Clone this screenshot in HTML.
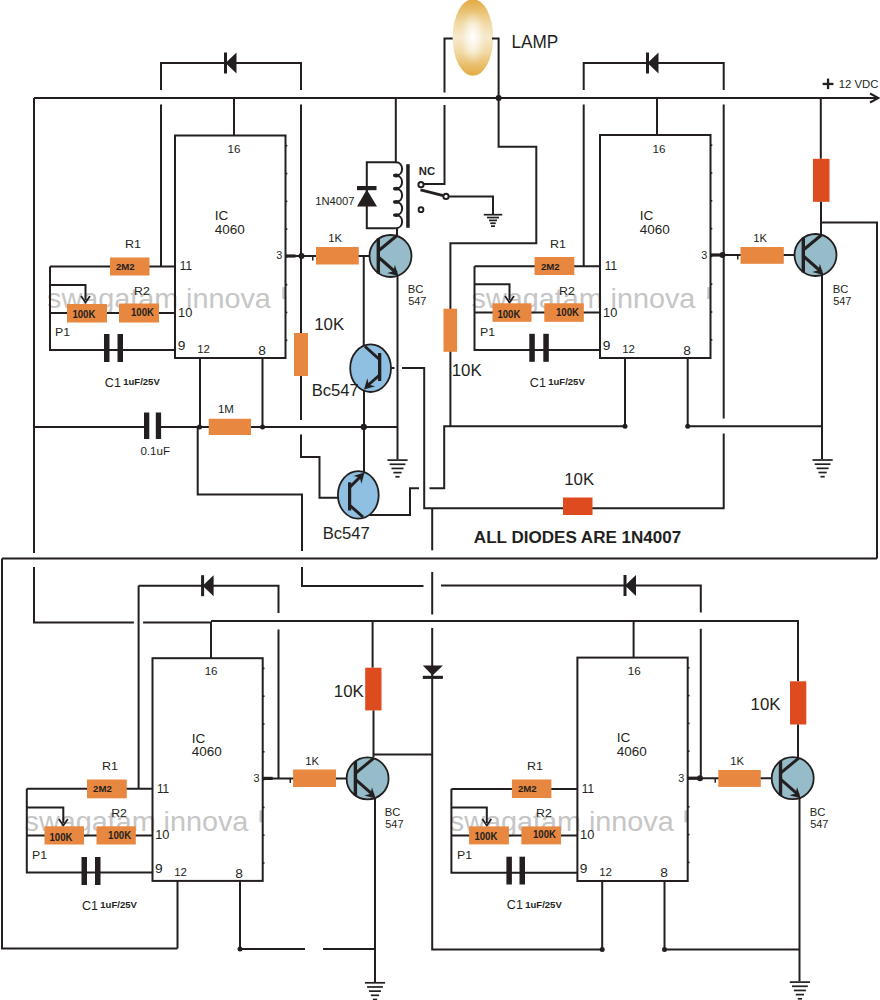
<!DOCTYPE html>
<html><head><meta charset="utf-8"><style>
html,body{margin:0;padding:0;background:#fff;}
svg{display:block;font-family:"Liberation Sans",sans-serif;}
</style></head><body>
<svg width="880" height="1000" viewBox="0 0 880 1000">
<rect width="880" height="1000" fill="#fff"/>
<text transform="translate(47,307.6) scale(1.01,1)" font-size="28.5" fill="#c6c6c6">swagatam innova</text>
<rect x="282.3" y="287.1" width="3" height="12" fill="#c6c6c6"/>
<text transform="translate(471.5,307.6) scale(1.01,1)" font-size="28.5" fill="#c6c6c6">swagatam innova</text>
<rect x="707.3" y="287.1" width="3" height="12" fill="#c6c6c6"/>
<text transform="translate(24.5,830.8) scale(1.01,1)" font-size="28.5" fill="#c6c6c6">swagatam innova</text>
<rect x="259.5" y="810.3" width="3" height="12" fill="#c6c6c6"/>
<text transform="translate(449.8,830.8) scale(1.01,1)" font-size="28.5" fill="#c6c6c6">swagatam innova</text>
<rect x="684.5" y="810.3" width="3" height="12" fill="#c6c6c6"/>
<path d="M34,98 H878" fill="none" stroke="#231f20" stroke-width="2"/>
<path d="M870,93.5 L878.5,98 L870,102.5" fill="none" stroke="#231f20" stroke-width="2"/>
<path d="M34,98 V553" fill="none" stroke="#231f20" stroke-width="2"/>
<path d="M34,567 V622.5 H133.9" fill="none" stroke="#231f20" stroke-width="2"/>
<path d="M143.1,622.5 H211 V658.2" fill="none" stroke="#231f20" stroke-width="2"/>
<path d="M211,621 H798 V681.3" fill="none" stroke="#231f20" stroke-width="2"/>
<rect x="175" y="135.5" width="110.5" height="222.5" fill="none" stroke="#231f20" stroke-width="2"/>
<path d="M161,90 V63 H301 V90" fill="none" stroke="#231f20" stroke-width="2"/>
<rect x="224.0" y="52.5" width="3" height="21" fill="#231f20"/>
<path d="M225.5,63 L236.5,52.5 L236.5,73.5 Z" fill="#231f20"/>
<path d="M161,104.5 V266.5" fill="none" stroke="#231f20" stroke-width="2"/>
<path d="M301,104.5 V420" fill="none" stroke="#231f20" stroke-width="2"/>
<path d="M301,434.5 V457 H319.5 V497.8 H338" fill="none" stroke="#231f20" stroke-width="2"/>
<path d="M234,98 V135.5" fill="none" stroke="#231f20" stroke-width="2"/>
<path d="M50,266.5 H175" fill="none" stroke="#231f20" stroke-width="2"/>
<rect x="110" y="257.5" width="39.50" height="18.00" fill="#e8873f"/>
<path d="M50,266.5 V350 H175" fill="none" stroke="#231f20" stroke-width="2"/>
<path d="M50,285 H85.5 V300" fill="none" stroke="#231f20" stroke-width="2"/>
<path d="M81,296 L85.5,302.5 L90,296" fill="none" stroke="#231f20" stroke-width="1.8"/>
<path d="M50,313 H175" fill="none" stroke="#231f20" stroke-width="2"/>
<rect x="67" y="304" width="40.00" height="18.50" fill="#e8873f"/>
<rect x="119" y="303.5" width="40.00" height="19.00" fill="#e8873f"/>
<rect x="104" y="334" width="5.50" height="28.00" fill="#231f20"/>
<rect x="117.5" y="334" width="5.50" height="28.00" fill="#231f20"/>
<path d="M200,358 V427.5" fill="none" stroke="#231f20" stroke-width="2"/>
<path d="M197.7,426 V494.5 H302 V551" fill="none" stroke="#231f20" stroke-width="2"/>
<path d="M302,567 V586 H423.5" fill="none" stroke="#231f20" stroke-width="2"/>
<path d="M441,585.5 H700.8 V612.5" fill="none" stroke="#231f20" stroke-width="2"/>
<rect x="623.5" y="575.0" width="3" height="21" fill="#231f20"/>
<path d="M625,585.5 L636,575.0 L636,596.0 Z" fill="#231f20"/>
<path d="M262.5,358 V427" fill="none" stroke="#231f20" stroke-width="2"/>
<path d="M34,427 H397.5" fill="none" stroke="#231f20" stroke-width="2"/>
<rect x="208.75" y="418.75" width="42.25" height="16.25" fill="#e8873f"/>
<rect x="143" y="412" width="30" height="28" fill="#fff"/>
<path d="M34,427 H144" fill="none" stroke="#231f20" stroke-width="2"/>
<path d="M161,427 H208" fill="none" stroke="#231f20" stroke-width="2"/>
<rect x="144" y="412.5" width="5.30" height="26.50" fill="#231f20"/>
<rect x="155.8" y="412.5" width="5.30" height="26.50" fill="#231f20"/>
<circle cx="199.5" cy="427" r="2.5" fill="#231f20"/>
<circle cx="262.5" cy="427" r="2.5" fill="#231f20"/>
<circle cx="363.75" cy="427" r="3.15" fill="#231f20"/>
<path d="M285.5,256 H370" fill="none" stroke="#231f20" stroke-width="2"/>
<rect x="316" y="247" width="42.75" height="17.50" fill="#e8873f"/>
<circle cx="301.5" cy="256" r="3" fill="#231f20"/>
<rect x="294" y="333" width="14.00" height="43.00" fill="#e8873f"/>
<path d="M397,228 V240" fill="none" stroke="#231f20" stroke-width="2"/>
<path d="M397.5,270 V459.5" fill="none" stroke="#231f20" stroke-width="2"/>
<rect x="387.40" y="459.25" width="20.2" height="1.7" fill="#231f20"/>
<rect x="389.60" y="463.42" width="15.8" height="1.7" fill="#231f20"/>
<rect x="391.50" y="467.59" width="12" height="1.7" fill="#231f20"/>
<rect x="393.40" y="471.76" width="8.2" height="1.7" fill="#231f20"/>
<rect x="395.40" y="475.93" width="4.2" height="1.7" fill="#231f20"/>
<path d="M363.75,256 V347" fill="none" stroke="#231f20" stroke-width="2"/>
<path d="M364,389 V473" fill="none" stroke="#231f20" stroke-width="2"/>
<circle cx="390.5" cy="256" r="21" fill="#95bcc8" stroke="#231f20" stroke-width="1.8"/>
<rect x="376.6" y="238.5" width="3.4" height="35" fill="#231f20"/>
<path d="M378.3,251 L397.0,235.5" fill="none" stroke="#231f20" stroke-width="3"/>
<path d="M378.3,257 L396.5,273" fill="none" stroke="#231f20" stroke-width="3"/>
<path d="M398.50,276.00 L394.83,264.86 L393.55,271.34 L387.16,273.02 Z" fill="#231f20"/>
<ellipse cx="370.6" cy="368.2" rx="20.4" ry="23.8" fill="#8fc0e2" stroke="#231f20" stroke-width="1.8"/>
<rect x="378" y="353" width="3.3" height="28" fill="#231f20"/>
<path d="M379,359 L365,346.5" fill="none" stroke="#231f20" stroke-width="3"/>
<path d="M379,375.5 L366,387" fill="none" stroke="#231f20" stroke-width="3"/>
<path d="M364.00,389.50 L375.25,386.22 L368.83,384.71 L367.36,378.27 Z" fill="#231f20"/>
<path d="M391,368 H394.5" fill="none" stroke="#231f20" stroke-width="2"/>
<path d="M402,368 H424.2 V508.3 H723.7 V433.6" fill="none" stroke="#231f20" stroke-width="2"/>
<path d="M723.7,418.6 V104.5" fill="none" stroke="#231f20" stroke-width="2"/>
<path d="M723.7,90 V63 H583.7 V90" fill="none" stroke="#231f20" stroke-width="2"/>
<rect x="646.0" y="52.5" width="3" height="21" fill="#231f20"/>
<path d="M647.5,63 L658.5,52.5 L658.5,73.5 Z" fill="#231f20"/>
<rect x="563" y="497.5" width="29.50" height="17.50" fill="#dd4b1e"/>
<ellipse cx="358.3" cy="494.9" rx="20.4" ry="23.8" fill="#8fc0e2" stroke="#231f20" stroke-width="1.8"/>
<rect x="348" y="482.3" width="3.2" height="28.2" fill="#231f20"/>
<path d="M350,487 L362,475" fill="none" stroke="#231f20" stroke-width="3"/>
<path d="M364.50,472.50 L353.34,476.11 L359.81,477.43 L361.46,483.82 Z" fill="#231f20"/>
<path d="M350,505.5 L363,517" fill="none" stroke="#231f20" stroke-width="3"/>
<path d="M369.5,515 H410 V488.3 H419" fill="none" stroke="#231f20" stroke-width="2"/>
<path d="M429.5,488.3 H444.2 V426.3 H625" fill="none" stroke="#231f20" stroke-width="2"/>
<path d="M432.2,508.3 V550.3" fill="none" stroke="#231f20" stroke-width="2"/>
<path d="M432.2,572 V614.5" fill="none" stroke="#231f20" stroke-width="2"/>
<path d="M432.2,628 V949.4 H602.2" fill="none" stroke="#231f20" stroke-width="2"/>
<path d="M395.8,98 V162.3 H366.8 V228.2 H395.8" fill="none" stroke="#231f20" stroke-width="2"/>
<path d="M395.8,162.3 C404.2,162.3 404.2,175.5 395.8,175.5 C404.2,175.5 404.2,188.7 395.8,188.7 C404.2,188.7 404.2,201.9 395.8,201.9 C404.2,201.9 404.2,215.1 395.8,215.1 C404.2,215.1 404.2,228.2 395.8,228.2 " fill="none" stroke="#231f20" stroke-width="2"/>
<ellipse cx="396.2" cy="175.5" rx="3.2" ry="1.9" fill="#231f20"/>
<ellipse cx="396.2" cy="188.7" rx="3.2" ry="1.9" fill="#231f20"/>
<ellipse cx="396.2" cy="201.9" rx="3.2" ry="1.9" fill="#231f20"/>
<ellipse cx="396.2" cy="215.1" rx="3.2" ry="1.9" fill="#231f20"/>
<rect x="406.2" y="164.2" width="3.50" height="63.60" fill="#231f20"/>
<rect x="357" y="186" width="19.50" height="4.20" fill="#231f20"/>
<path d="M366.8,189.5 L357,206.5 L377,206.5 Z" fill="#231f20"/>
<path d="M420.5,189.8 L443.3,195.6" fill="none" stroke="#231f20" stroke-width="2.8"/>
<circle cx="421" cy="184.7" r="2.6" fill="#fff" stroke="#231f20" stroke-width="2"/>
<circle cx="446" cy="196.4" r="2.6" fill="#fff" stroke="#231f20" stroke-width="2"/>
<circle cx="421" cy="209.7" r="2.4" fill="#fff" stroke="#231f20" stroke-width="1.9"/>
<path d="M424,184 H444.5 V105" fill="none" stroke="#231f20" stroke-width="2"/>
<path d="M444.5,92.5 V38.5 H454" fill="none" stroke="#231f20" stroke-width="2"/>
<path d="M449,196.6 H493 V214.5" fill="none" stroke="#231f20" stroke-width="2"/>
<rect x="483.75" y="213.85" width="18.5" height="1.7" fill="#231f20"/>
<rect x="487.00" y="216.70" width="12" height="1.7" fill="#231f20"/>
<rect x="489.00" y="219.55" width="8" height="1.7" fill="#231f20"/>
<rect x="490.25" y="222.40" width="5.5" height="1.7" fill="#231f20"/>
<rect x="491.00" y="225.25" width="4" height="1.7" fill="#231f20"/>
<defs><linearGradient id="lv" x1="0" y1="0" x2="0" y2="1"><stop offset="0" stop-color="#e3aa40"/><stop offset="0.15" stop-color="#e9c070"/><stop offset="0.3" stop-color="#f0d8a0"/><stop offset="0.5" stop-color="#f6ead0"/><stop offset="0.7" stop-color="#f0d8a0"/><stop offset="0.85" stop-color="#e9c070"/><stop offset="1" stop-color="#e3aa40"/></linearGradient><radialGradient id="lr" cx="0.5" cy="0.5" r="0.5"><stop offset="0" stop-color="#ffffff" stop-opacity="1"/><stop offset="0.35" stop-color="#fbf4e4" stop-opacity="0.8"/><stop offset="0.7" stop-color="#f4e4c0" stop-opacity="0"/></radialGradient></defs>
<ellipse cx="472.9" cy="37.5" rx="20.3" ry="38.3" fill="url(#lv)"/>
<ellipse cx="472.9" cy="37.5" rx="20.3" ry="38.3" fill="url(#lr)"/>
<path d="M492,38.5 H498.6 V146.8 H536.3 V243.3 H450.4 V426.3" fill="none" stroke="#231f20" stroke-width="2"/>
<rect x="443.5" y="308.7" width="13.60" height="43.10" fill="#e8873f"/>
<circle cx="498.6" cy="98" r="3" fill="#231f20"/>
<rect x="600" y="135" width="110.5" height="223" fill="none" stroke="#231f20" stroke-width="2"/>
<path d="M583.7,104.5 V266.3" fill="none" stroke="#231f20" stroke-width="2"/>
<path d="M657,98 V135" fill="none" stroke="#231f20" stroke-width="2"/>
<path d="M474.5,266.3 H600" fill="none" stroke="#231f20" stroke-width="2"/>
<rect x="534.5" y="257" width="39.80" height="18.00" fill="#e8873f"/>
<path d="M474.5,266.3 V350 H600" fill="none" stroke="#231f20" stroke-width="2"/>
<path d="M474.5,284.3 H509.5 V300" fill="none" stroke="#231f20" stroke-width="2"/>
<path d="M505,296 L509.5,302.5 L514,296" fill="none" stroke="#231f20" stroke-width="1.8"/>
<path d="M474.5,312.5 H600" fill="none" stroke="#231f20" stroke-width="2"/>
<rect x="492.5" y="303.3" width="39.00" height="18.50" fill="#e8873f"/>
<rect x="544.3" y="303.3" width="39.50" height="18.50" fill="#e8873f"/>
<rect x="529.3" y="333.8" width="5.50" height="28.00" fill="#231f20"/>
<rect x="543.3" y="333.8" width="5.50" height="28.00" fill="#231f20"/>
<path d="M625,358 V426.3" fill="none" stroke="#231f20" stroke-width="2"/>
<circle cx="625" cy="426.3" r="2.5" fill="#231f20"/>
<path d="M687.7,358 V426.3 H822" fill="none" stroke="#231f20" stroke-width="2"/>
<circle cx="687.7" cy="426.3" r="2.5" fill="#231f20"/>
<path d="M710.5,255 H794" fill="none" stroke="#231f20" stroke-width="2"/>
<rect x="740.5" y="247" width="43.30" height="16.80" fill="#e8873f"/>
<circle cx="722.5" cy="255" r="3" fill="#231f20"/>
<path d="M820.8,98 V158.8" fill="none" stroke="#231f20" stroke-width="2"/>
<rect x="813" y="158.8" width="16.50" height="43.00" fill="#dd4b1e"/>
<path d="M821,201.8 V236" fill="none" stroke="#231f20" stroke-width="2"/>
<path d="M822,222.5 H877 V558.5" fill="none" stroke="#231f20" stroke-width="2"/>
<path d="M822,270 V459" fill="none" stroke="#231f20" stroke-width="2"/>
<rect x="812.50" y="459.15" width="20.2" height="1.7" fill="#231f20"/>
<rect x="814.70" y="463.32" width="15.8" height="1.7" fill="#231f20"/>
<rect x="816.60" y="467.49" width="12" height="1.7" fill="#231f20"/>
<rect x="818.50" y="471.66" width="8.2" height="1.7" fill="#231f20"/>
<rect x="820.50" y="475.83" width="4.2" height="1.7" fill="#231f20"/>
<circle cx="815.5" cy="255" r="21" fill="#95bcc8" stroke="#231f20" stroke-width="1.8"/>
<rect x="801.5999999999999" y="237.5" width="3.4" height="35" fill="#231f20"/>
<path d="M803.3,250 L822.0,234.5" fill="none" stroke="#231f20" stroke-width="3"/>
<path d="M803.3,256 L821.5,272" fill="none" stroke="#231f20" stroke-width="3"/>
<path d="M823.50,275.00 L819.83,263.86 L818.55,270.34 L812.16,272.02 Z" fill="#231f20"/>
<rect x="285.5" y="144.90" width="1.8" height="1.6" fill="#231f20"/>
<rect x="285.5" y="172.70" width="1.8" height="1.6" fill="#231f20"/>
<rect x="285.5" y="200.50" width="1.8" height="1.6" fill="#231f20"/>
<rect x="285.5" y="228.30" width="1.8" height="1.6" fill="#231f20"/>
<rect x="285.5" y="256.10" width="1.8" height="1.6" fill="#231f20"/>
<rect x="285.5" y="283.90" width="1.8" height="1.6" fill="#231f20"/>
<rect x="285.5" y="311.70" width="1.8" height="1.6" fill="#231f20"/>
<rect x="285.5" y="339.50" width="1.8" height="1.6" fill="#231f20"/>
<rect x="710.5" y="144.40" width="1.8" height="1.6" fill="#231f20"/>
<rect x="710.5" y="172.20" width="1.8" height="1.6" fill="#231f20"/>
<rect x="710.5" y="200.00" width="1.8" height="1.6" fill="#231f20"/>
<rect x="710.5" y="227.80" width="1.8" height="1.6" fill="#231f20"/>
<rect x="710.5" y="255.60" width="1.8" height="1.6" fill="#231f20"/>
<rect x="710.5" y="283.40" width="1.8" height="1.6" fill="#231f20"/>
<rect x="710.5" y="311.20" width="1.8" height="1.6" fill="#231f20"/>
<rect x="710.5" y="339.00" width="1.8" height="1.6" fill="#231f20"/>
<rect x="262.7" y="667.60" width="1.8" height="1.6" fill="#231f20"/>
<rect x="262.7" y="695.40" width="1.8" height="1.6" fill="#231f20"/>
<rect x="262.7" y="723.20" width="1.8" height="1.6" fill="#231f20"/>
<rect x="262.7" y="751.00" width="1.8" height="1.6" fill="#231f20"/>
<rect x="262.7" y="778.80" width="1.8" height="1.6" fill="#231f20"/>
<rect x="262.7" y="806.60" width="1.8" height="1.6" fill="#231f20"/>
<rect x="262.7" y="834.40" width="1.8" height="1.6" fill="#231f20"/>
<rect x="262.7" y="862.20" width="1.8" height="1.6" fill="#231f20"/>
<rect x="687.7" y="667.00" width="1.8" height="1.6" fill="#231f20"/>
<rect x="687.7" y="694.80" width="1.8" height="1.6" fill="#231f20"/>
<rect x="687.7" y="722.60" width="1.8" height="1.6" fill="#231f20"/>
<rect x="687.7" y="750.40" width="1.8" height="1.6" fill="#231f20"/>
<rect x="687.7" y="778.20" width="1.8" height="1.6" fill="#231f20"/>
<rect x="687.7" y="806.00" width="1.8" height="1.6" fill="#231f20"/>
<rect x="687.7" y="833.80" width="1.8" height="1.6" fill="#231f20"/>
<rect x="687.7" y="861.60" width="1.8" height="1.6" fill="#231f20"/>
<rect x="285.5" y="254.4" width="10" height="3.2" fill="#231f20"/>
<rect x="312" y="256" width="1.5" height="4.5" fill="#231f20"/>
<rect x="710.5" y="253.4" width="10" height="3.2" fill="#231f20"/>
<rect x="737" y="255" width="1.5" height="4.5" fill="#231f20"/>
<rect x="262.7" y="776.8" width="10" height="3.2" fill="#231f20"/>
<rect x="289.5" y="778.4" width="1.5" height="4.5" fill="#231f20"/>
<rect x="687.7" y="776.6" width="10" height="3.2" fill="#231f20"/>
<rect x="714.5" y="778.2" width="1.5" height="4.5" fill="#231f20"/>
<path d="M2,558.5 H877" fill="none" stroke="#231f20" stroke-width="2"/>
<path d="M2,558.5 V948.5 H177.5" fill="none" stroke="#231f20" stroke-width="2"/>
<rect x="152.5" y="658.2" width="110.2" height="222.7" fill="none" stroke="#231f20" stroke-width="2"/>
<path d="M138.6,585.7 V788.8" fill="none" stroke="#231f20" stroke-width="2"/>
<path d="M138.6,585.7 H278.5 V613" fill="none" stroke="#231f20" stroke-width="2"/>
<rect x="201.1" y="575.2" width="3" height="21" fill="#231f20"/>
<path d="M202.6,585.7 L213.6,575.2 L213.6,596.2 Z" fill="#231f20"/>
<path d="M278.5,629.5 V778.4" fill="none" stroke="#231f20" stroke-width="2"/>
<path d="M26.8,788.8 H152.5" fill="none" stroke="#231f20" stroke-width="2"/>
<rect x="87" y="779.5" width="39.80" height="18.80" fill="#e8873f"/>
<path d="M26.8,788.8 V872.5 H152.5" fill="none" stroke="#231f20" stroke-width="2"/>
<path d="M26.8,807.5 H63.3 V823" fill="none" stroke="#231f20" stroke-width="2"/>
<path d="M58.8,819 L63.3,825.5 L67.8,819" fill="none" stroke="#231f20" stroke-width="1.8"/>
<path d="M26.8,835.5 H152.5" fill="none" stroke="#231f20" stroke-width="2"/>
<rect x="44.5" y="826.3" width="39.50" height="18.20" fill="#e8873f"/>
<rect x="96.5" y="826.3" width="39.30" height="18.20" fill="#e8873f"/>
<rect x="81.5" y="857" width="5.50" height="28.00" fill="#231f20"/>
<rect x="95.0" y="857" width="5.50" height="28.00" fill="#231f20"/>
<path d="M177.5,880.9 V948.5" fill="none" stroke="#231f20" stroke-width="2"/>
<path d="M240,880.9 V949 H305" fill="none" stroke="#231f20" stroke-width="2"/>
<path d="M323,949 H374.8" fill="none" stroke="#231f20" stroke-width="2"/>
<circle cx="240" cy="949" r="2.5" fill="#231f20"/>
<path d="M262.7,778.4 H346" fill="none" stroke="#231f20" stroke-width="2"/>
<rect x="293.1" y="769.5" width="42.90" height="17.50" fill="#e8873f"/>
<path d="M372.6,621 V667.7" fill="none" stroke="#231f20" stroke-width="2"/>
<rect x="365.2" y="667.7" width="16.30" height="42.70" fill="#dd4b1e"/>
<path d="M373.5,710.4 V757" fill="none" stroke="#231f20" stroke-width="2"/>
<path d="M373.5,754.6 H432.5" fill="none" stroke="#231f20" stroke-width="2"/>
<path d="M375,795 V982" fill="none" stroke="#231f20" stroke-width="2"/>
<rect x="364.90" y="981.95" width="20.2" height="1.7" fill="#231f20"/>
<rect x="367.10" y="986.12" width="15.8" height="1.7" fill="#231f20"/>
<rect x="369.00" y="990.29" width="12" height="1.7" fill="#231f20"/>
<rect x="370.90" y="994.46" width="8.2" height="1.7" fill="#231f20"/>
<rect x="372.90" y="998.63" width="4.2" height="1.7" fill="#231f20"/>
<circle cx="367.6" cy="778.4" r="21" fill="#95bcc8" stroke="#231f20" stroke-width="1.8"/>
<rect x="353.70000000000005" y="760.9" width="3.4" height="35" fill="#231f20"/>
<path d="M355.40000000000003,773.4 L374.1,757.9" fill="none" stroke="#231f20" stroke-width="3"/>
<path d="M355.40000000000003,779.4 L373.6,795.4" fill="none" stroke="#231f20" stroke-width="3"/>
<path d="M375.60,798.40 L371.93,787.26 L370.65,793.74 L364.26,795.42 Z" fill="#231f20"/>
<path d="M422.8,665.4 L442.9,665.4 L432.5,675.5 Z" fill="#231f20"/>
<rect x="422.8" y="675.8" width="20.10" height="3.10" fill="#231f20"/>
<rect x="577.4" y="657.6" width="110.3" height="223.4" fill="none" stroke="#231f20" stroke-width="2"/>
<path d="M633.6,621 V657.6" fill="none" stroke="#231f20" stroke-width="2"/>
<path d="M700.8,628.8 V778.2" fill="none" stroke="#231f20" stroke-width="2"/>
<path d="M451.4,789 H577.4" fill="none" stroke="#231f20" stroke-width="2"/>
<rect x="511.9" y="779.5" width="39.50" height="18.50" fill="#e8873f"/>
<path d="M451.4,789 V872.8 H577.4" fill="none" stroke="#231f20" stroke-width="2"/>
<path d="M451.4,807.4 H486.8 V823" fill="none" stroke="#231f20" stroke-width="2"/>
<path d="M482.3,819 L486.8,825.5 L491.3,819" fill="none" stroke="#231f20" stroke-width="1.8"/>
<path d="M451.4,835.4 H577.4" fill="none" stroke="#231f20" stroke-width="2"/>
<rect x="469.1" y="826.4" width="39.80" height="18.00" fill="#e8873f"/>
<rect x="521.4" y="826.4" width="39.60" height="18.00" fill="#e8873f"/>
<rect x="506.4" y="856.7" width="5.50" height="27.80" fill="#231f20"/>
<rect x="519.5" y="856.7" width="5.50" height="27.80" fill="#231f20"/>
<path d="M602.2,881 V949.4" fill="none" stroke="#231f20" stroke-width="2"/>
<circle cx="602.2" cy="949.4" r="2.5" fill="#231f20"/>
<path d="M664.5,881 V949.4 H799.5" fill="none" stroke="#231f20" stroke-width="2"/>
<circle cx="664.5" cy="949.4" r="2.5" fill="#231f20"/>
<path d="M687.7,778.2 H771" fill="none" stroke="#231f20" stroke-width="2"/>
<rect x="718.3" y="770" width="42.50" height="16.90" fill="#e8873f"/>
<circle cx="700" cy="778.2" r="3" fill="#231f20"/>
<rect x="790" y="681.3" width="16.30" height="43.20" fill="#dd4b1e"/>
<path d="M798,724.5 V757" fill="none" stroke="#231f20" stroke-width="2"/>
<path d="M799.5,795 V981.3" fill="none" stroke="#231f20" stroke-width="2"/>
<rect x="789.80" y="981.25" width="20.2" height="1.7" fill="#231f20"/>
<rect x="792.00" y="985.42" width="15.8" height="1.7" fill="#231f20"/>
<rect x="793.90" y="989.59" width="12" height="1.7" fill="#231f20"/>
<rect x="795.80" y="993.76" width="8.2" height="1.7" fill="#231f20"/>
<rect x="797.80" y="997.93" width="4.2" height="1.7" fill="#231f20"/>
<circle cx="792.7" cy="778.2" r="21" fill="#95bcc8" stroke="#231f20" stroke-width="1.8"/>
<rect x="778.8" y="760.7" width="3.4" height="35" fill="#231f20"/>
<path d="M780.5,773.2 L799.2,757.7" fill="none" stroke="#231f20" stroke-width="3"/>
<path d="M780.5,779.2 L798.7,795.2" fill="none" stroke="#231f20" stroke-width="3"/>
<path d="M800.70,798.20 L797.03,787.06 L795.75,793.54 L789.36,795.22 Z" fill="#231f20"/>
<text transform="translate(227.53,152.50) scale(1.046,1)" font-size="11.14" font-weight="normal" fill="#231f20">16</text>
<text transform="translate(214.68,219.80) scale(1.067,1)" font-size="12.71" font-weight="normal" fill="#231f20">IC</text>
<text transform="translate(214.66,233.60) scale(1.014,1)" font-size="13.29" font-weight="normal" fill="#231f20">4060</text>
<text transform="translate(124.90,247.50) scale(1.08,1)" font-size="11.59" font-weight="normal" fill="#231f20">R1</text>
<text transform="translate(115.96,269.70) scale(0.977,1)" font-size="9.86" font-weight="bold" fill="#231f20">2M2</text>
<text transform="translate(179.81,270.20) scale(0.993,1)" font-size="11.88" font-weight="normal" fill="#231f20">11</text>
<text transform="translate(134.07,294.50) scale(1.12,1)" font-size="11.0" font-weight="normal" fill="#231f20">R2</text>
<text transform="translate(178.04,316.60) scale(1.018,1)" font-size="12.57" font-weight="normal" fill="#231f20">10</text>
<text transform="translate(55.01,336.20) scale(1.12,1)" font-size="11.01" font-weight="normal" fill="#231f20">P1</text>
<text transform="translate(177.84,350.40) scale(1.12,1)" font-size="12.29" font-weight="normal" fill="#231f20">9</text>
<text transform="translate(197.14,353.00) scale(1.004,1)" font-size="11.43" font-weight="normal" fill="#231f20">12</text>
<text transform="translate(258.23,354.80) scale(1.12,1)" font-size="12.29" font-weight="normal" fill="#231f20">8</text>
<text transform="translate(276.37,259.30) scale(0.961,1)" font-size="11.29" font-weight="normal" fill="#231f20">3</text>
<text transform="translate(328.25,242.00) scale(1.066,1)" font-size="10.58" font-weight="normal" fill="#231f20">1K</text>
<text transform="translate(104.87,386.80) scale(1.033,1)" font-size="12.14" font-weight="normal" fill="#231f20">C1</text>
<text transform="translate(123.18,385.30) scale(0.989,1)" font-size="9.66" font-weight="bold" fill="#231f20">1uF/25V</text>
<text transform="translate(407.70,293.00) scale(1.065,1)" font-size="10.57" font-weight="normal" fill="#231f20">BC</text>
<text transform="translate(408.16,305.40) scale(1.021,1)" font-size="10.72" font-weight="normal" fill="#231f20">547</text>
<text transform="translate(72.38,317.80) scale(0.95,1)" font-size="10.14" font-weight="bold" fill="#231f20">100K</text>
<text transform="translate(131.00,315.80) scale(0.95,1)" font-size="10.14" font-weight="bold" fill="#231f20">100K</text>
<text transform="translate(652.53,152.50) scale(1.046,1)" font-size="11.14" font-weight="normal" fill="#231f20">16</text>
<text transform="translate(639.68,219.80) scale(1.067,1)" font-size="12.71" font-weight="normal" fill="#231f20">IC</text>
<text transform="translate(639.66,233.60) scale(1.014,1)" font-size="13.29" font-weight="normal" fill="#231f20">4060</text>
<text transform="translate(549.90,247.50) scale(1.08,1)" font-size="11.59" font-weight="normal" fill="#231f20">R1</text>
<text transform="translate(540.96,269.70) scale(0.977,1)" font-size="9.86" font-weight="bold" fill="#231f20">2M2</text>
<text transform="translate(604.81,270.20) scale(0.993,1)" font-size="11.88" font-weight="normal" fill="#231f20">11</text>
<text transform="translate(559.07,294.50) scale(1.12,1)" font-size="11.0" font-weight="normal" fill="#231f20">R2</text>
<text transform="translate(603.04,316.60) scale(1.018,1)" font-size="12.57" font-weight="normal" fill="#231f20">10</text>
<text transform="translate(480.01,336.20) scale(1.12,1)" font-size="11.01" font-weight="normal" fill="#231f20">P1</text>
<text transform="translate(602.84,350.40) scale(1.12,1)" font-size="12.29" font-weight="normal" fill="#231f20">9</text>
<text transform="translate(622.14,353.00) scale(1.004,1)" font-size="11.43" font-weight="normal" fill="#231f20">12</text>
<text transform="translate(683.23,354.80) scale(1.12,1)" font-size="12.29" font-weight="normal" fill="#231f20">8</text>
<text transform="translate(701.37,259.30) scale(0.961,1)" font-size="11.29" font-weight="normal" fill="#231f20">3</text>
<text transform="translate(753.25,242.00) scale(1.066,1)" font-size="10.58" font-weight="normal" fill="#231f20">1K</text>
<text transform="translate(529.87,386.80) scale(1.033,1)" font-size="12.14" font-weight="normal" fill="#231f20">C1</text>
<text transform="translate(548.18,385.30) scale(0.989,1)" font-size="9.66" font-weight="bold" fill="#231f20">1uF/25V</text>
<text transform="translate(832.70,293.00) scale(1.065,1)" font-size="10.57" font-weight="normal" fill="#231f20">BC</text>
<text transform="translate(833.16,305.40) scale(1.021,1)" font-size="10.72" font-weight="normal" fill="#231f20">547</text>
<text transform="translate(497.38,317.80) scale(0.95,1)" font-size="10.14" font-weight="bold" fill="#231f20">100K</text>
<text transform="translate(556.00,315.80) scale(0.95,1)" font-size="10.14" font-weight="bold" fill="#231f20">100K</text>
<text transform="translate(204.63,675.20) scale(1.046,1)" font-size="11.14" font-weight="normal" fill="#231f20">16</text>
<text transform="translate(191.78,742.50) scale(1.067,1)" font-size="12.71" font-weight="normal" fill="#231f20">IC</text>
<text transform="translate(191.76,756.30) scale(1.014,1)" font-size="13.29" font-weight="normal" fill="#231f20">4060</text>
<text transform="translate(102.00,770.20) scale(1.08,1)" font-size="11.59" font-weight="normal" fill="#231f20">R1</text>
<text transform="translate(93.06,792.40) scale(0.977,1)" font-size="9.86" font-weight="bold" fill="#231f20">2M2</text>
<text transform="translate(156.91,792.90) scale(0.993,1)" font-size="11.88" font-weight="normal" fill="#231f20">11</text>
<text transform="translate(111.17,817.20) scale(1.12,1)" font-size="11.0" font-weight="normal" fill="#231f20">R2</text>
<text transform="translate(155.14,839.30) scale(1.018,1)" font-size="12.57" font-weight="normal" fill="#231f20">10</text>
<text transform="translate(32.11,858.90) scale(1.12,1)" font-size="11.01" font-weight="normal" fill="#231f20">P1</text>
<text transform="translate(154.94,873.10) scale(1.12,1)" font-size="12.29" font-weight="normal" fill="#231f20">9</text>
<text transform="translate(174.24,875.70) scale(1.004,1)" font-size="11.43" font-weight="normal" fill="#231f20">12</text>
<text transform="translate(235.33,877.50) scale(1.12,1)" font-size="12.29" font-weight="normal" fill="#231f20">8</text>
<text transform="translate(253.47,782.00) scale(0.961,1)" font-size="11.29" font-weight="normal" fill="#231f20">3</text>
<text transform="translate(305.35,764.70) scale(1.066,1)" font-size="10.58" font-weight="normal" fill="#231f20">1K</text>
<text transform="translate(81.97,909.50) scale(1.033,1)" font-size="12.14" font-weight="normal" fill="#231f20">C1</text>
<text transform="translate(100.28,908.00) scale(0.989,1)" font-size="9.66" font-weight="bold" fill="#231f20">1uF/25V</text>
<text transform="translate(384.80,815.70) scale(1.065,1)" font-size="10.57" font-weight="normal" fill="#231f20">BC</text>
<text transform="translate(385.26,828.10) scale(1.021,1)" font-size="10.72" font-weight="normal" fill="#231f20">547</text>
<text transform="translate(49.48,840.50) scale(0.95,1)" font-size="10.14" font-weight="bold" fill="#231f20">100K</text>
<text transform="translate(108.10,838.50) scale(0.95,1)" font-size="10.14" font-weight="bold" fill="#231f20">100K</text>
<text transform="translate(627.83,675.00) scale(1.046,1)" font-size="11.14" font-weight="normal" fill="#231f20">16</text>
<text transform="translate(616.68,742.30) scale(1.067,1)" font-size="12.71" font-weight="normal" fill="#231f20">IC</text>
<text transform="translate(616.66,756.10) scale(1.014,1)" font-size="13.29" font-weight="normal" fill="#231f20">4060</text>
<text transform="translate(526.90,770.00) scale(1.08,1)" font-size="11.59" font-weight="normal" fill="#231f20">R1</text>
<text transform="translate(517.96,792.20) scale(0.977,1)" font-size="9.86" font-weight="bold" fill="#231f20">2M2</text>
<text transform="translate(581.81,792.70) scale(0.993,1)" font-size="11.88" font-weight="normal" fill="#231f20">11</text>
<text transform="translate(536.07,817.00) scale(1.12,1)" font-size="11.0" font-weight="normal" fill="#231f20">R2</text>
<text transform="translate(580.04,839.10) scale(1.018,1)" font-size="12.57" font-weight="normal" fill="#231f20">10</text>
<text transform="translate(457.01,858.70) scale(1.12,1)" font-size="11.01" font-weight="normal" fill="#231f20">P1</text>
<text transform="translate(579.84,872.90) scale(1.12,1)" font-size="12.29" font-weight="normal" fill="#231f20">9</text>
<text transform="translate(599.14,875.50) scale(1.004,1)" font-size="11.43" font-weight="normal" fill="#231f20">12</text>
<text transform="translate(660.23,877.30) scale(1.12,1)" font-size="12.29" font-weight="normal" fill="#231f20">8</text>
<text transform="translate(678.37,781.80) scale(0.961,1)" font-size="11.29" font-weight="normal" fill="#231f20">3</text>
<text transform="translate(730.25,764.50) scale(1.066,1)" font-size="10.58" font-weight="normal" fill="#231f20">1K</text>
<text transform="translate(506.87,909.30) scale(1.033,1)" font-size="12.14" font-weight="normal" fill="#231f20">C1</text>
<text transform="translate(525.18,907.80) scale(0.989,1)" font-size="9.66" font-weight="bold" fill="#231f20">1uF/25V</text>
<text transform="translate(809.70,815.50) scale(1.065,1)" font-size="10.57" font-weight="normal" fill="#231f20">BC</text>
<text transform="translate(810.16,827.90) scale(1.021,1)" font-size="10.72" font-weight="normal" fill="#231f20">547</text>
<text transform="translate(474.38,840.30) scale(0.95,1)" font-size="10.14" font-weight="bold" fill="#231f20">100K</text>
<text transform="translate(533.00,838.30) scale(0.95,1)" font-size="10.14" font-weight="bold" fill="#231f20">100K</text>
<text transform="translate(140.44,454.70) scale(1.011,1)" font-size="11.43" font-weight="normal" fill="#231f20">0.1uF</text>
<text transform="translate(217.93,412.60) scale(1.035,1)" font-size="11.16" font-weight="normal" fill="#231f20">1M</text>
<text transform="translate(314.24,329.80) scale(1.009,1)" font-size="16.71" font-weight="normal" fill="#231f20">10K</text>
<text transform="translate(311.67,396.00) scale(1.063,1)" font-size="15.65" font-weight="normal" fill="#231f20">Bc547</text>
<text transform="translate(315.16,204.80) scale(0.998,1)" font-size="11.29" font-weight="normal" fill="#231f20">1N4007</text>
<text transform="translate(418.77,174.90) scale(0.998,1)" font-size="11.29" font-weight="bold" fill="#231f20">NC</text>
<text transform="translate(511.53,47.90) scale(0.972,1)" font-size="17.68" font-weight="normal" fill="#231f20">LAMP</text>
<text transform="translate(838.75,87.90) scale(0.993,1)" font-size="11.43" font-weight="normal" fill="#231f20">12 VDC</text>
<text transform="translate(473.87,542.50) scale(1.003,1)" font-size="17.0" font-weight="bold" fill="#231f20">ALL DIODES ARE 1N4007</text>
<text transform="translate(322.67,538.70) scale(1.063,1)" font-size="15.65" font-weight="normal" fill="#231f20">Bc547</text>
<text transform="translate(451.74,376.00) scale(1.009,1)" font-size="16.71" font-weight="normal" fill="#231f20">10K</text>
<text transform="translate(564.24,485.00) scale(1.009,1)" font-size="16.71" font-weight="normal" fill="#231f20">10K</text>
<text transform="translate(333.84,696.80) scale(1.009,1)" font-size="16.71" font-weight="normal" fill="#231f20">10K</text>
<text transform="translate(750.54,710.00) scale(1.009,1)" font-size="16.71" font-weight="normal" fill="#231f20">10K</text>
<rect x="822.6" y="82.8" width="10.9" height="2.3" fill="#231f20"/>
<rect x="826.9" y="78.6" width="2.3" height="10.5" fill="#231f20"/>
</svg></body></html>
